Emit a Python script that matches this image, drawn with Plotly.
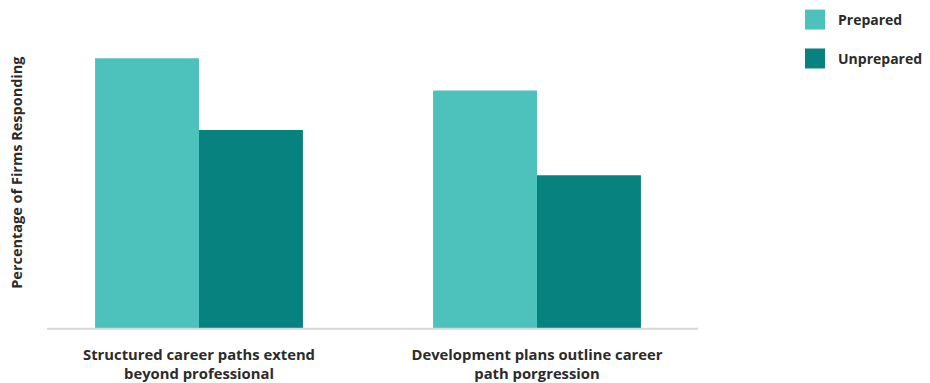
import plotly.graph_objects as go

categories = ["Structured career paths extend<br>beyond professional",
              "Development plans outline career<br>path porgression"]
series_names = ["Prepared", "Unprepared"]
prepared = [75.2, 66.2]
unprepared = [55.2, 42.6]
colors = ["#4DC2BD", "#07827F"]

OFF = 8  # page body margin
W, H = 930 - OFF, 383 - OFF
plot_l, plot_r = 30 - OFF, 706 - OFF
plot_t, plot_b = 41 - OFF, 328.5 - OFF

def px(x):
    return (x - OFF - plot_l) / (plot_r - plot_l)

def py(y):
    return (plot_b - (y - OFF)) / (plot_b - plot_t)

fig = go.Figure()
for name, vals, col in zip(series_names, [prepared, unprepared], colors):
    fig.add_trace(go.Bar(x=categories, y=vals, name=name, marker_color=col,
                         marker_line_width=0, showlegend=False))

font_family = "Open Sans"
txt_col = "#2b2b2b"

# axis baseline
fig.add_shape(type="line", xref="paper", yref="paper",
              x0=px(47), x1=px(698), y0=py(329.3), y1=py(329.3),
              line=dict(color="#d3d8d8", width=2))

# custom legend
leg_y = [19.5, 58.5]
for name, col, yc in zip(series_names, colors, leg_y):
    fig.add_shape(type="rect", xref="paper", yref="paper",
                  x0=px(805), x1=px(825), y0=py(yc + 10), y1=py(yc - 10),
                  fillcolor=col, line_width=0)
    fig.add_annotation(text=name, xref="paper", yref="paper",
                       x=px(836), y=py(yc),
                       xanchor="left", yanchor="middle", showarrow=False,
                       font=dict(family=font_family, size=14, color=txt_col, weight=700))

# y-axis title
fig.add_annotation(text="Percentage of Firms Responding", xref="paper", yref="paper",
                   x=px(17), y=py(173),
                   textangle=-90, xanchor="center", yanchor="middle", showarrow=False,
                   font=dict(family=font_family, size=14.5, color=txt_col, weight=700))

fig.update_layout(
    width=W, height=H,
    margin=dict(l=plot_l, r=W - plot_r, t=plot_t, b=H - plot_b),
    barmode="group", bargap=0.385, bargroupgap=0,
    plot_bgcolor="white", paper_bgcolor="white",
    font=dict(family=font_family, color=txt_col),
    xaxis=dict(showgrid=False, showline=False, zeroline=False, ticks="",
               automargin=False,
               tickfont=dict(family=font_family, size=14.8, color=txt_col, weight=700),
               ticklabelstandoff=16, range=[-0.5, 1.5]),
    yaxis=dict(showgrid=False, showline=False, zeroline=False, showticklabels=False,
               automargin=False, ticks="", range=[0, 80]),
)

fig.write_html("out.html")
